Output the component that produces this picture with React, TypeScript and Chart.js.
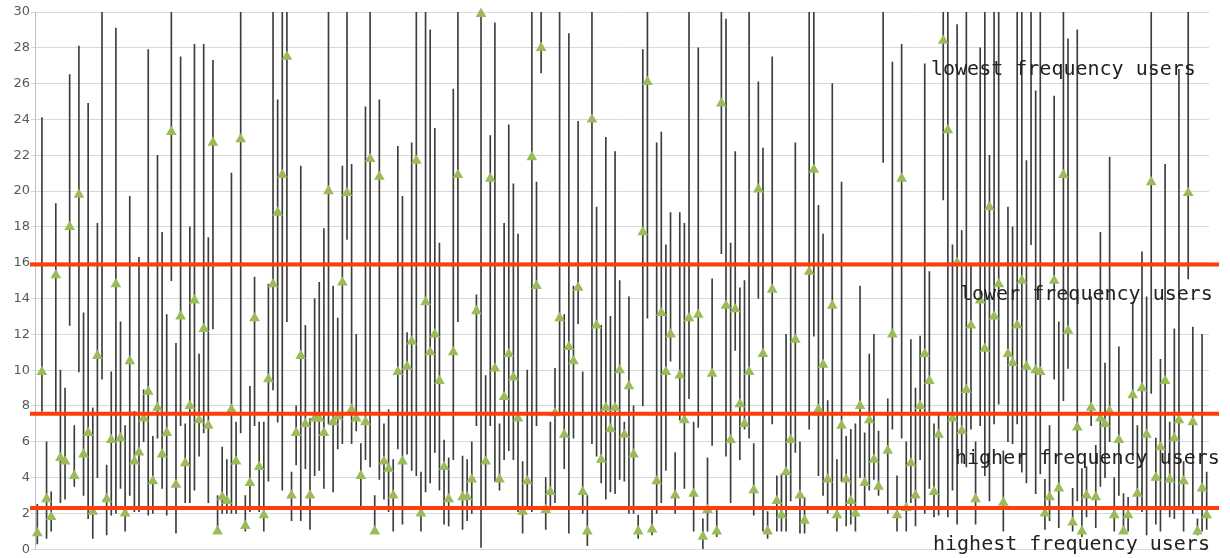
import React, { useEffect, useRef } from 'react';
import { Chart, registerables } from 'chart.js';

Chart.register(...registerables);

// Lower end of each vertical range line
const lows = [
  0.3, 7.7, 0.6, 1.0, 7.7, 2.6, 2.8, 12.5, 3.5, 9.9,
  3.0, 1.7, 0.6, 4.0, 9.5, 0.8, 1.9, 2.0, 3.4, 1.0,
  3.0, 2.1, 2.1, 6.0, 1.9, 2.0, 6.2, 3.4, 1.9, 15.0,
  0.9, 6.9, 2.6, 2.6, 3.3, 5.2, 6.5, 2.6, 12.3, 0.9,
  2.0, 2.0, 2.0, 2.0, 6.5, 1.0, 2.1, 6.9, 2.1, 1.0,
  3.8, 8.9, 7.1, 3.3, 12.7, 1.6, 4.7, 1.6, 4.5, 1.1,
  4.1, 4.4, 3.4, 7.0, 3.2, 5.6, 5.9, 17.3, 5.9, 6.6,
  2.4, 5.0, 4.6, 0.9, 3.9, 2.8, 2.1, 1.0, 5.6, 1.4,
  5.3, 4.4, 4.1, 1.0, 3.2, 3.7, 5.4, 3.3, 1.4, 1.3,
  5.0, 12.7, 1.1, 1.6, 2.0, 6.9, 0.1, 2.4, 6.9, 3.8,
  3.3, 5.0, 5.5, 5.0, 2.1, 0.9, 2.4, 2.1, 6.9, 26.6,
  1.1, 2.2, 2.6, 7.6, 4.5, 0.9, 6.2, 12.6, 2.0, 0.2,
  5.9, 5.2, 3.7, 2.8, 3.2, 3.1, 3.9, 3.8, 2.0, 2.0,
  0.6, 8.0, 12.9, 0.8, 2.0, 2.6, 4.4, 10.5, 2.0, 7.2,
  3.4, 8.4, 1.0, 6.8, 0.0, 1.0, 5.8, 0.7, 16.5, 5.2,
  2.6, 11.1, 5.0, 6.7, 6.2, 1.9, 14.0, 1.0, 0.6, 7.0,
  1.0, 1.0, 1.0, 2.7, 5.4, 0.9, 0.9, 6.7, 11.9, 4.1,
  3.0, 2.0, 2.3, 1.0, 3.8, 1.3, 1.4, 1.0, 4.0, 2.4,
  3.3, 3.9, 3.0, 21.6, 2.0, 6.7, 1.0, 6.2, 1.0, 2.6,
  1.3, 5.0, 2.0, 3.4, 1.8, 1.9, 19.5, 1.8, 3.3, 1.4,
  4.8, 4.6, 6.7, 1.4, 6.9, 4.1, 2.7, 7.0, 8.1, 1.0,
  6.0, 5.9, 7.0, 4.3, 3.7, 17.0, 3.1, 4.2, 1.1, 1.6,
  9.5, 1.2, 8.3, 10.1, 1.0, 2.7, 0.7, 1.8, 6.9, 1.2,
  3.5, 4.0, 6.0, 1.0, 3.0, 1.0, 1.0, 5.0, 2.2, 2.1,
  0.8, 8.7, 1.4, 1.0, 2.2, 1.8, 1.7, 2.2, 1.0, 15.1,
  2.0, 0.8, 1.0, 1.1,
];

// Upper end of each vertical range line
const highs = [
  2.5, 24.1, 6.0, 3.2, 19.3, 10.0, 9.0, 26.5, 6.9, 28.1,
  13.2, 24.9, 7.9, 18.2, 30, 4.7, 9.9, 29.1, 12.7, 6.9,
  19.7, 7.7, 16.3, 8.9, 27.9, 6.3, 22.0, 17.7, 13.1, 30,
  11.5, 27.5, 7.0, 18.0, 28.2, 10.9, 28.2, 17.4, 27.3, 3.0,
  5.7, 5.0, 21.0, 7.1, 30, 3.0, 9.1, 15.2, 7.1, 7.1,
  14.8, 30, 25.1, 30, 30, 4.3, 8.0, 21.4, 12.5, 7.3,
  14.0, 14.9, 17.9, 30, 14.7, 12.9, 21.4, 30, 21.5, 12.0,
  5.9, 24.7, 30, 3.0, 25.1, 7.0, 7.8, 5.0, 22.5, 19.7,
  12.1, 22.7, 30, 4.3, 30, 29.0, 23.5, 17.1, 6.1, 5.1,
  25.7, 30, 5.2, 5.0, 6.0, 14.2, 30, 9.7, 23.1, 29.4,
  7.0, 18.2, 23.7, 20.4, 17.6, 4.9, 10.0, 30, 20.5, 30,
  4.0, 7.1, 10.1, 30, 13.1, 28.8, 14.7, 23.9, 9.9, 3.0,
  30, 19.1, 12.5, 23.0, 13.0, 22.2, 15.0, 7.1, 14.1, 8.0,
  1.9, 27.9, 30, 2.2, 22.7, 23.3, 17.0, 18.8, 5.4, 18.8,
  18.2, 30, 7.1, 28.0, 1.7, 5.1, 15.1, 2.2, 30, 29.6,
  17.1, 22.2, 14.6, 15.0, 30, 5.9, 26.1, 22.4, 2.1, 27.5,
  4.1, 4.2, 12.0, 15.9, 22.7, 6.0, 2.9, 30, 30, 19.2,
  17.6, 8.3, 26.0, 5.0, 20.5, 6.3, 6.7, 7.0, 14.7, 6.5,
  10.9, 12.0, 6.6, 30, 8.4, 27.2, 4.1, 28.2, 6.0, 11.7,
  9.0, 11.9, 27.1, 15.5, 7.0, 7.6, 30, 30, 17.0, 29.3,
  17.8, 30, 15.9, 6.0, 28.0, 30, 22.0, 30, 30, 5.5,
  19.1, 18.0, 30, 30, 21.7, 30, 25.6, 30, 3.9, 6.9,
  25.3, 12.7, 30, 28.5, 3.4, 29.0, 4.5, 4.6, 14.1, 5.8,
  17.7, 10.4, 21.9, 4.0, 11.3, 3.1, 2.9, 13.8, 6.9, 16.6,
  14.1, 30, 6.2, 10.6, 21.5, 7.1, 12.3, 26.8, 4.9, 30,
  12.4, 1.7, 12.0, 4.3,
];

// Green triangle marker values (null = marker not visible)
const marks = [
  0.9, 9.9, 2.8, 1.8, 15.3, 5.1, 4.9, 18.0, 4.1, 19.8,
  5.3, 6.5, 2.1, 10.8, null, 2.8, 6.1, 14.8, 6.2, 2.0,
  10.5, 4.9, 5.4, 7.3, 8.8, 3.8, 7.9, 5.3, 6.5, 23.3,
  3.6, 13.0, 4.8, 8.0, 13.9, 7.2, 12.3, 6.9, 22.7, 1.0,
  2.9, 2.7, 7.8, 4.9, 22.9, 1.3, 3.7, 12.9, 4.6, 1.9,
  9.5, 14.8, 18.8, 20.9, 27.5, 3.0, 6.5, 10.8, 7.0, 3.0,
  7.3, 7.3, 6.5, 20.0, 7.1, 7.4, 14.9, 19.9, 7.8, 7.3,
  4.1, 7.1, 21.8, 1.0, 20.8, 4.9, 4.5, 3.0, 9.9, 4.9,
  10.2, 11.6, 21.7, 2.0, 13.8, 11.0, 12.0, 9.4, 4.6, 2.8,
  11.0, 20.9, 2.9, 2.9, 3.9, 13.3, 29.9, 4.9, 20.7, 10.1,
  3.9, 8.5, 10.9, 9.6, 7.3, 2.1, 3.8, 21.9, 14.7, 28.0,
  2.2, 3.2, 7.6, 12.9, 6.4, 11.3, 10.5, 14.6, 3.2, 1.0,
  24.0, 12.5, 5.0, 7.9, 6.7, 7.9, 10.0, 6.4, 9.1, 5.3,
  1.0, 17.7, 26.1, 1.1, 3.8, 13.2, 9.9, 12.0, 3.0, 9.7,
  7.2, 12.9, 3.1, 13.1, 0.7, 2.2, 9.8, 1.0, 24.9, 13.6,
  6.1, 13.4, 8.1, 7.0, 9.9, 3.3, 20.1, 10.9, 1.0, 14.5,
  2.7, 1.9, 4.3, 6.1, 11.7, 3.0, 1.6, 15.5, 21.2, 7.8,
  10.3, 3.9, 13.6, 1.9, 6.9, 3.9, 2.7, 2.0, 8.0, 3.7,
  7.2, 5.0, 3.5, null, 5.5, 12.0, 1.9, 20.7, 2.3, 4.8,
  3.0, 8.0, 10.9, 9.4, 3.2, 6.4, 28.4, 23.4, 7.3, 16.0,
  6.6, 8.9, 12.5, 2.8, 13.9, 11.2, 19.1, 13.0, 14.8, 2.6,
  10.9, 10.4, 12.5, 15.0, 10.2, null, 10.0, 9.9, 2.0, 2.9,
  15.0, 3.4, 20.9, 12.2, 1.5, 6.8, 1.0, 3.0, 7.9, 2.9,
  7.3, 7.0, 7.7, 1.9, 6.1, 1.0, 1.9, 8.6, 3.1, 9.0,
  6.4, 20.5, 4.0, 5.7, 9.4, 3.9, 6.2, 7.2, 3.8, 19.9,
  7.1, 1.0, 3.4, 1.9,
];

const categories = lows.map((_, i) => String(i + 1));

// Red threshold lines
const thresholds = [15.9, 7.56, 2.3];

// Group annotations and the value at which each text baseline sits
const groupLabels = [
  'lowest frequency users',
  'lower frequency users',
  'higher frequency users',
  'highest frequency users',
];
const groupLabelValues = [26.5, 13.94, 4.74, -0.05];

const overlayPlugin = {
  id: 'overlay',
  afterDatasetsDraw(chart: any) {
    const { ctx, chartArea, scales } = chart;
    const y = scales.y;
    ctx.save();
    ctx.strokeStyle = '#ff3d0a';
    ctx.lineWidth = 4;
    thresholds.forEach((t) => {
      const py = y.getPixelForValue(t);
      ctx.beginPath();
      ctx.moveTo(chartArea.left - 5, py);
      ctx.lineTo(chartArea.right + 10, py);
      ctx.stroke();
    });
    const xs = [931, 960, 955, 933];
    ctx.font = '20px "DejaVu Sans Mono"';
    ctx.fillStyle = '#222222';
    ctx.textBaseline = 'alphabetic';
    ctx.textAlign = 'left';
    groupLabels.forEach((txt, i) => {
      ctx.fillText(txt, xs[i], y.getPixelForValue(groupLabelValues[i]));
    });
    ctx.restore();
  },
};

export default function App() {
  const ref = useRef<HTMLCanvasElement | null>(null);
  useEffect(() => {
    if (!ref.current) return;
    const chart = new Chart(ref.current, {
      type: 'bar',
      data: {
        labels: categories,
        datasets: [
          {
            type: 'line',
            data: marks,
            showLine: false,
            pointStyle: 'triangle',
            pointRadius: 6.2,
            pointHoverRadius: 6.2,
            pointBackgroundColor: '#9bbb59',
            pointBorderColor: '#9bbb59',
            pointBorderWidth: 0,
            clip: false,
            order: 0,
          } as any,
          {
            type: 'bar',
            data: lows.map((l, i) => [l, highs[i]]),
            backgroundColor: '#3d3d3d',
            borderWidth: 0,
            barThickness: 1,
            order: 1,
          } as any,
        ],
      },
      options: {
        animation: false,
        responsive: false,
        devicePixelRatio: 1,
        layout: { padding: { left: 0, right: 21, top: 12, bottom: 8 } },
        plugins: { legend: { display: false }, tooltip: { enabled: false } },
        events: [],
        scales: {
          x: { type: 'category', display: false, offset: true, grid: { display: false } },
          y: {
            min: 0,
            max: 30,
            ticks: {
              stepSize: 2,
              color: '#595959',
              padding: 1,
              font: { family: 'DejaVu Sans', size: 13 },
            },
            grid: { color: '#d9d9d9', lineWidth: 1, tickLength: 4 },
            border: { color: '#bfbfbf' },
            afterFit: (s: any) => {
              s.width = 35;
            },
          },
        },
      } as any,
      plugins: [overlayPlugin],
    });
    return () => chart.destroy();
  }, []);
  return (
    <div style={{ position: 'absolute', left: 0, top: 0, width: 1230, height: 558, background: '#fff' }}>
      <canvas ref={ref} width={1230} height={558} style={{ display: 'block' }} />
    </div>
  );
}
